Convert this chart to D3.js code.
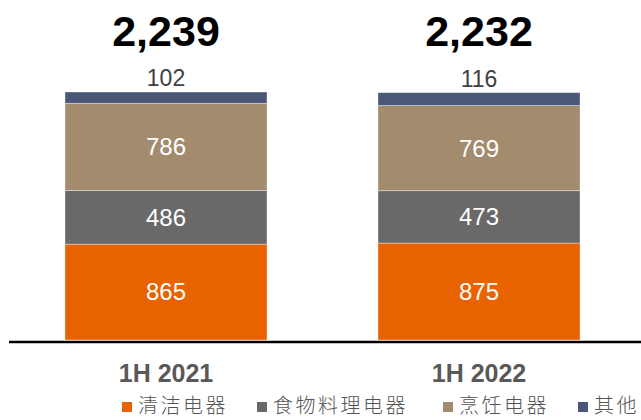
<!DOCTYPE html>
<html>
<head>
<meta charset="utf-8">
<script src="https://cdn.jsdelivr.net/npm/d3@7"></script>
<style>
  body { margin: 0; background: #fff; }
  svg { display: block; }
</style>
</head>
<body>
<div id="chart"></div>
<script>
// data
const periods = ['1H 2021', '1H 2022']
const seriesNames = ['清洁电器', '食物料理电器', '烹饪电器', '其他']
const cleaning = [865, 875]
const foodPrep = [486, 473]
const cooking = [786, 769]
const other = [102, 116]
const totals = ['2,239', '2,232']

const colors = ['#E96200', '#696969', '#A38B6D', '#4A5779']

const width = 641
const height = 420

// build rows for the stack
const rows = periods.map((p, i) => ({
  period: p,
  s0: cleaning[i],
  s1: foodPrep[i],
  s2: cooking[i],
  s3: other[i],
  total: totals[i],
}))
const keys = ['s0', 's1', 's2', 's3']
const stacked = d3.stack().keys(keys)(rows)

const x = d3.scaleBand()
  .domain(periods)
  .range([9.5, 635.5])
  .paddingInner(0.3546)
  .paddingOuter(0.1773)

const sumMax = d3.max(rows, d => d.s0 + d.s1 + d.s2 + d.s3)
const y = d3.scaleLinear()
  .domain([0, sumMax])
  .range([340, 92])

const svg = d3.create('svg')
  .attr('width', width)
  .attr('height', height)
  .attr('viewBox', [0, 0, width, height])

// segments
svg.append('g')
  .selectAll('g')
  .data(stacked)
  .join('g')
    .attr('fill', (d, i) => colors[i])
  .selectAll('rect')
  .data(d => d)
  .join('rect')
    .attr('x', d => x(d.data.period))
    .attr('y', d => y(d[1]))
    .attr('width', x.bandwidth())
    .attr('height', d => y(d[0]) - y(d[1]))
    .attr('stroke', 'rgba(255,255,255,0.45)')
    .attr('stroke-width', 0.8)

// value labels inside the three big segments
svg.append('g')
    .attr('fill', 'white')
    .attr('text-anchor', 'middle')
    .attr('font-family', 'Liberation Sans, Arial, sans-serif')
    .attr('font-size', 24)
  .selectAll('text')
  .data(stacked.slice(0, 3).flatMap(s => s))
  .join('text')
    .attr('x', d => x(d.data.period) + x.bandwidth() / 2)
    .attr('y', d => (y(d[0]) + y(d[1])) / 2)
    .attr('dy', '0.35em')
    .text(d => d[1] - d[0])

// "other" labels above the bar
svg.append('g')
    .attr('fill', '#404040')
    .attr('text-anchor', 'middle')
    .attr('font-family', 'Liberation Sans, Arial, sans-serif')
    .attr('font-size', 23)
  .selectAll('text')
  .data(stacked[3])
  .join('text')
    .attr('x', d => x(d.data.period) + x.bandwidth() / 2)
    .attr('y', d => y(d[1]) - 6)
    .text(d => d[1] - d[0])

// totals
svg.append('g')
    .attr('fill', '#000')
    .attr('text-anchor', 'middle')
    .attr('font-family', 'Liberation Sans, Arial, sans-serif')
    .attr('font-weight', 'bold')
    .attr('font-size', 43)
  .selectAll('text')
  .data(rows)
  .join('text')
    .attr('x', d => x(d.period) + x.bandwidth() / 2)
    .attr('y', 46)
    .text(d => d.total)

// baseline
svg.append('line')
  .attr('x1', 9)
  .attr('x2', 641)
  .attr('y1', 342)
  .attr('y2', 342)
  .attr('stroke', '#000')
  .attr('stroke-width', 2.5)

// category labels
const xAxis = g => g
  .attr('transform', 'translate(0, 342)')
  .call(d3.axisBottom(x).tickSize(0).tickPadding(0))
  .call(g => g.select('.domain').remove())
  .call(g => g.selectAll('text')
    .attr('y', 40)
    .attr('dy', 0)
    .attr('fill', '#595959')
    .attr('font-family', 'Liberation Sans, Arial, sans-serif')
    .attr('font-weight', 'bold')
    .attr('font-size', 25))

svg.append('g').call(xAxis)

// legend
const legendX = [122, 257, 443, 578]
const legend = svg.append('g')
  .selectAll('g')
  .data(seriesNames)
  .join('g')
    .attr('transform', (d, i) => `translate(${legendX[i]}, 402)`)

legend.append('rect')
  .attr('width', 10)
  .attr('height', 10)
  .attr('fill', (d, i) => colors[i])

legend.append('text')
  .attr('x', 16)
  .attr('y', 11)
  .attr('fill', '#555')
  .attr('font-family', 'Noto Sans CJK SC, sans-serif')
  .attr('font-weight', 300)
  .attr('font-size', 20)
  .attr('letter-spacing', 2.5)
  .text(d => d)

document.getElementById('chart').appendChild(svg.node())
</script>
</body>
</html>
